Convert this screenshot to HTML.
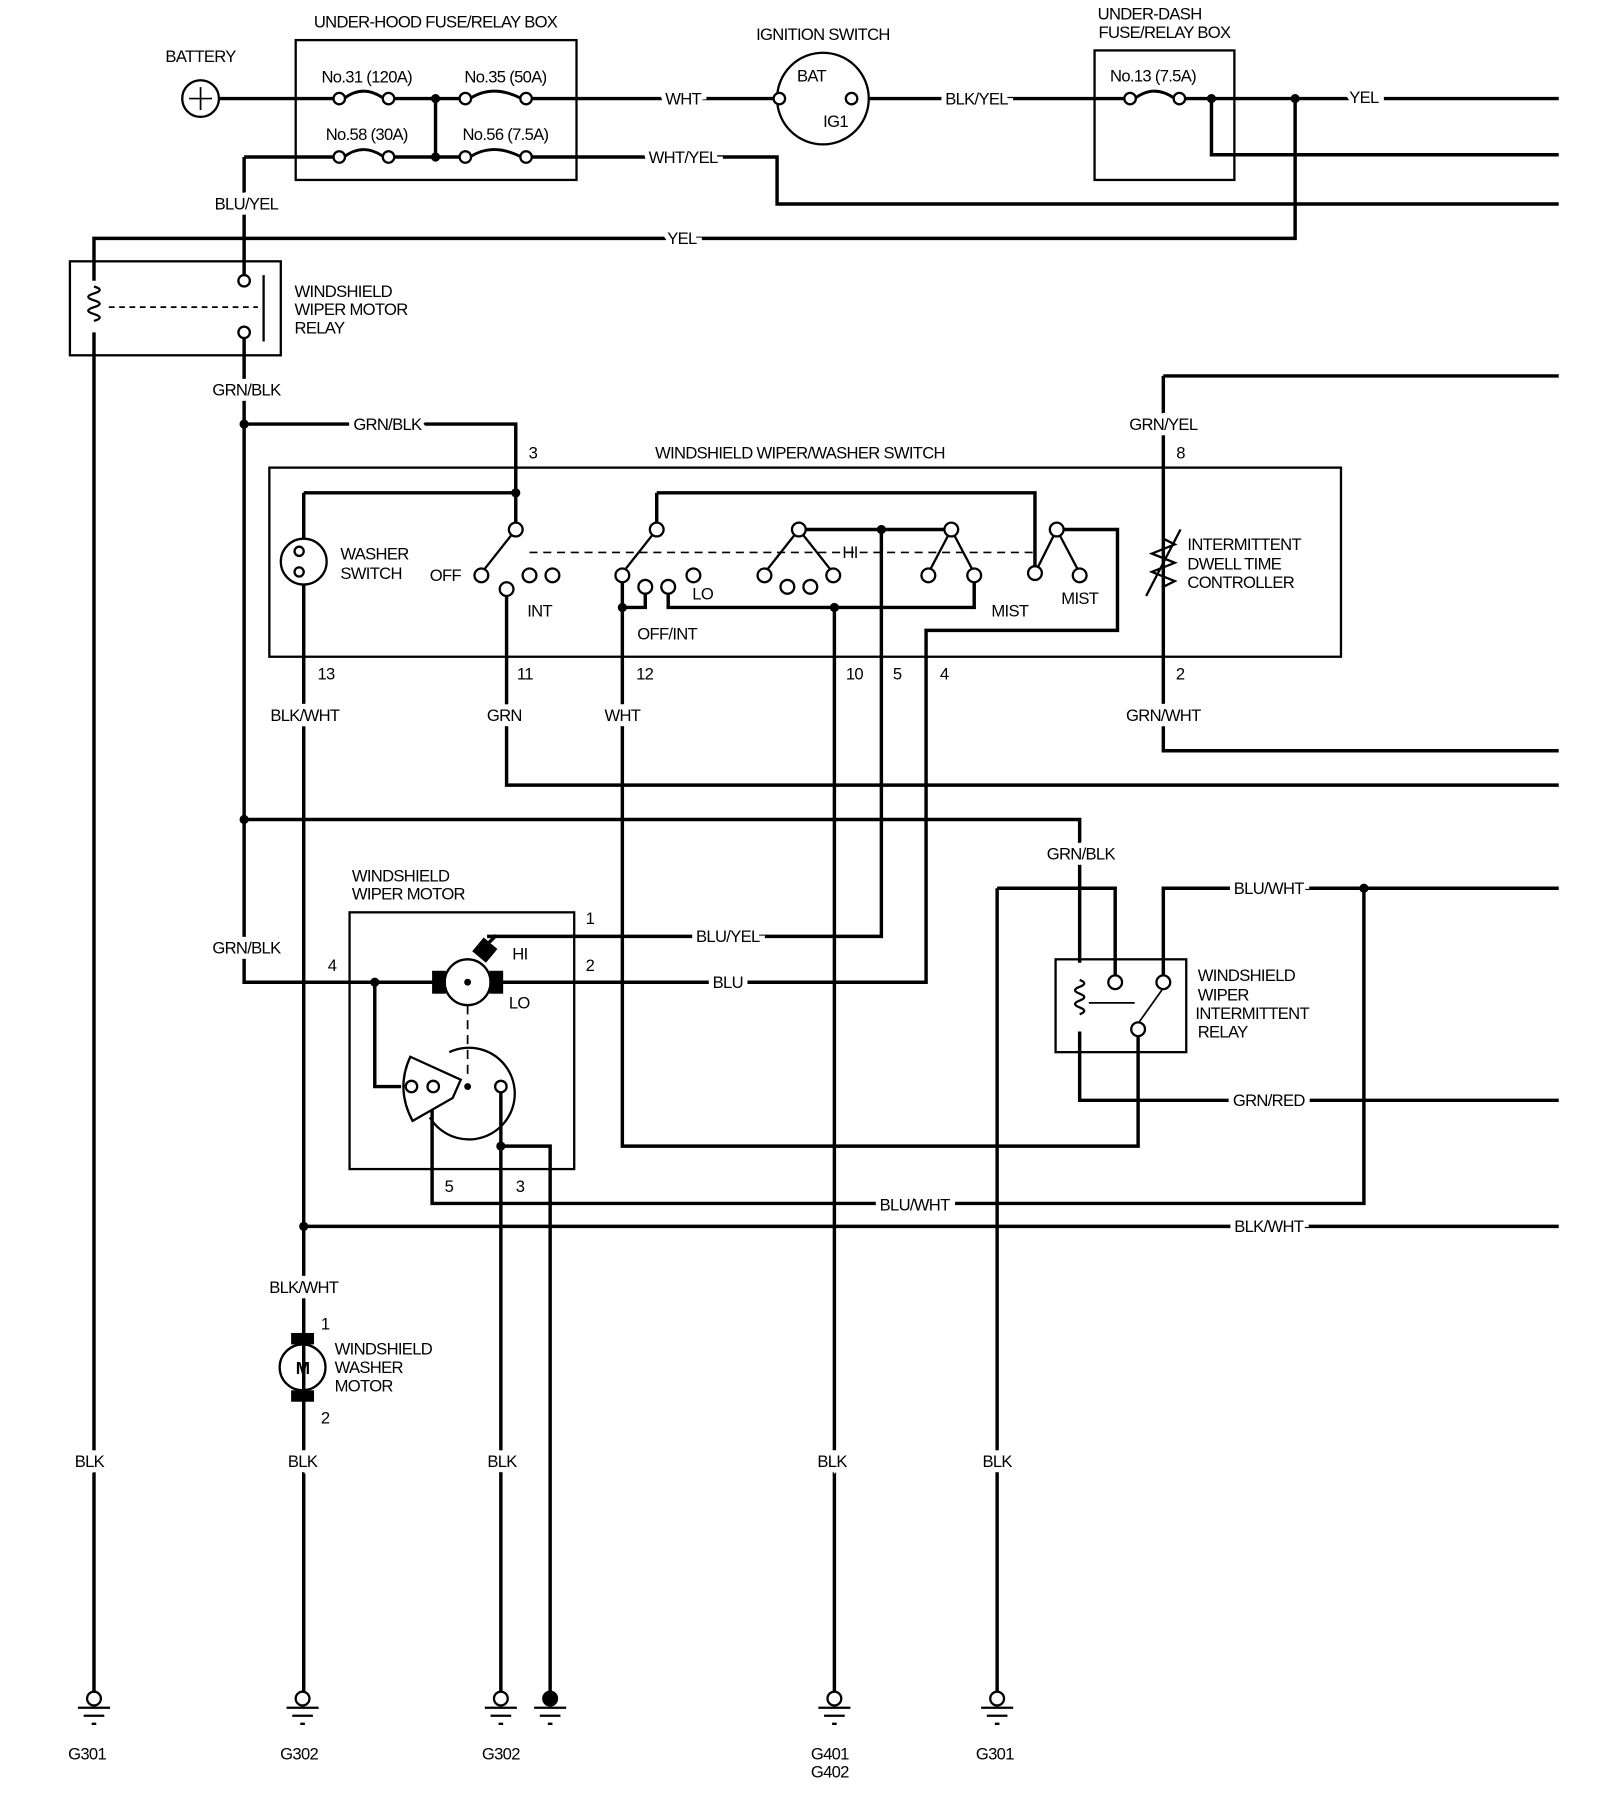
<!DOCTYPE html>
<html><head><meta charset="utf-8"><style>
html,body{margin:0;padding:0;background:#fff;}
svg{display:block;}
text{font-family:"Liberation Sans",sans-serif;font-size:14.5px;fill:#000;letter-spacing:-0.6px;}
.l{stroke:#fff;stroke-width:9px;paint-order:stroke;}
</style></head><body>
<svg width="1600" height="1796" viewBox="0 0 1396 1567" preserveAspectRatio="none" xmlns="http://www.w3.org/2000/svg">
<g fill="none" stroke="#000" stroke-width="3">
<circle cx="175" cy="86" r="16" stroke-width="2"/>
<path d="M165 86h20M175 76v20" stroke-width="1.5"/>
<rect x="258" y="35" width="245" height="122" stroke-width="2"/>
<path d="M191 86H292M343 86H402M463 86H678"/>
<path d="M213 137H292M343 137H402M463 137H678V178H1360"/>
<path d="M380 86V137"/>
<path d="M300 86q17-13 35 0M410 86q20-13 45 0M300 137q17-13 35 0M410 137q20-13 45 0" stroke-width="2.5"/>
<circle cx="718" cy="86" r="40" stroke-width="2"/>
<path d="M757 86H982M1033 86H1360M1057 86V135H1360M1130 86V208H82V245"/>
<path d="M990 86q17-13 35 0" stroke-width="2.5"/>
<rect x="955" y="44" width="122" height="113" stroke-width="2"/>
<rect x="61" y="228" width="184" height="82" stroke-width="2"/>
<path d="M213 137V240M213 295V857H380"/>
<path d="M230 240V298" stroke-width="2"/>
<path d="M95 268H225" stroke-width="1.5" stroke-dasharray="5,4"/>
<path d="M82 250q10 3 0 6q-10 3 0 6q10 3 0 6q-10 3 0 6q10 3 0 6" stroke-width="2"/>
<path d="M82 290V1478"/>
<path d="M213 370H450V462"/>
<rect x="235" y="408" width="935" height="165" stroke-width="2"/>
<path d="M265 430H450M265 430V470M265 510V1478"/>
<circle cx="265" cy="490" r="20" stroke-width="2"/>
<path d="M450 462L420 500" stroke-width="2"/>
<path d="M442 520V685H1360"/>
<path d="M573 430H903V497M573 430V457"/>
<path d="M573 462L543 500" stroke-width="2"/>
<path d="M543 507V1000H993V903M543 530H563V517M583 517V530H850V507"/>
<path d="M728 530V1478"/>
<path d="M697 462H830M769 462V817H425"/>
<path d="M697 462L667 500M697 462L727 500M830 462L810 500M830 462L850 500M922 462L903 500M922 462L942 500" stroke-width="2"/>
<path d="M927 462H975V550H808V857H437"/>
<path d="M462 482H905" stroke-width="1.5" stroke-dasharray="7,5"/>
<path d="M1015 328H1360M1015 328V655H1360"/>
<path d="M1015 470l10 5-20 8 20 8-20 8 20 8-10 5M1000 520L1030 462" stroke-width="2"/>
<path d="M213 715H942V840M942 900V960H1360M870 775H973V852M870 775V1478M1015 852V775H1360M1190 775V1050H377V953"/>
<rect x="921" y="837" width="114" height="81" stroke-width="2"/>
<path d="M942 855q8 3 0 6q-8 3 0 6q8 3 0 6q-8 3 0 6q8 3 0 6" stroke-width="2"/>
<path d="M1015 862L993 893M950 875H990" stroke-width="1.5"/>
<rect x="305" y="796" width="196" height="224" stroke-width="2"/>
<path d="M327 857V948H350"/>
<circle cx="408" cy="857" r="20" stroke-width="2"/>
<path d="M408 877V940" stroke-width="1.5" stroke-dasharray="8,5"/>
<path d="M437 952V1000H480V1478M437 1000V1478"/>
<path d="M392 918A40 40 0 1 1 375 975" stroke-width="2"/>
<path d="M358 922L402 942L395 958L360 978Q345 950 358 922Z" fill="#fff" stroke-width="2"/>
<path d="M265 1070H1360"/>
<circle cx="264" cy="1193" r="20" stroke-width="2"/>
<g stroke-width="2">
<circle cx="82" cy="1482" r="6" fill="#fff"/><path d="M68 1490h28M73 1497h18M80 1504h4"/>
<circle cx="264" cy="1482" r="6" fill="#fff"/><path d="M250 1490h28M255 1497h18M262 1504h4"/>
<circle cx="437" cy="1482" r="6" fill="#fff"/><path d="M423 1490h28M428 1497h18M435 1504h4"/>
<circle cx="480" cy="1482" r="6" fill="#000"/><path d="M466 1490h28M471 1497h18M478 1504h4"/>
<circle cx="728" cy="1482" r="6" fill="#fff"/><path d="M714 1490h28M719 1497h18M726 1504h4"/>
<circle cx="870" cy="1482" r="6" fill="#fff"/><path d="M856 1490h28M861 1497h18M868 1504h4"/>
</g>
</g>
<g fill="#000">
<circle cx="380" cy="86" r="4"/><circle cx="380" cy="137" r="4"/><circle cx="1057" cy="86" r="4"/><circle cx="1130" cy="86" r="4"/>
<circle cx="213" cy="370" r="4"/><circle cx="213" cy="715" r="4"/><circle cx="450" cy="430" r="4"/><circle cx="543" cy="530" r="4"/>
<circle cx="728" cy="530" r="4"/><circle cx="769" cy="462" r="4"/><circle cx="327" cy="857" r="4"/><circle cx="437" cy="1000" r="4"/>
<circle cx="265" cy="1070" r="4"/><circle cx="1190" cy="775" r="4"/><circle cx="408" cy="857" r="3"/><circle cx="408" cy="948" r="3"/>
<rect x="377" y="847" width="12" height="20"/><rect x="427" y="847" width="12" height="20"/>
<path d="M412 830l10-12 12 10-10 12z"/><path d="M425 824l8-8" stroke="#000" stroke-width="3"/>
<rect x="254" y="1163" width="20" height="10"/><rect x="254" y="1213" width="20" height="10"/>
</g>
<g fill="#fff" stroke="#000" stroke-width="2">
<circle cx="296" cy="86" r="5"/><circle cx="339" cy="86" r="5"/><circle cx="406" cy="86" r="5"/><circle cx="459" cy="86" r="5"/>
<circle cx="296" cy="137" r="5"/><circle cx="339" cy="137" r="5"/><circle cx="406" cy="137" r="5"/><circle cx="459" cy="137" r="5"/>
<circle cx="986" cy="86" r="5"/><circle cx="1029" cy="86" r="5"/>
<circle cx="680" cy="86" r="5"/><circle cx="743" cy="86" r="5"/>
<circle cx="213" cy="245" r="5"/><circle cx="213" cy="290" r="5"/>
<circle cx="261" cy="481" r="4"/><circle cx="261" cy="499" r="4"/>
<circle cx="450" cy="462" r="6"/><circle cx="420" cy="502" r="6"/><circle cx="442" cy="514" r="6"/><circle cx="462" cy="502" r="6"/><circle cx="482" cy="502" r="6"/>
<circle cx="573" cy="462" r="6"/><circle cx="543" cy="502" r="6"/><circle cx="563" cy="512" r="6"/><circle cx="583" cy="512" r="6"/><circle cx="605" cy="502" r="6"/>
<circle cx="697" cy="462" r="6"/><circle cx="667" cy="502" r="6"/><circle cx="687" cy="512" r="6"/><circle cx="707" cy="512" r="6"/><circle cx="727" cy="502" r="6"/>
<circle cx="830" cy="462" r="6"/><circle cx="810" cy="502" r="6"/><circle cx="850" cy="502" r="6"/>
<circle cx="922" cy="462" r="6"/><circle cx="903" cy="500" r="6"/><circle cx="942" cy="502" r="6"/>
<circle cx="973" cy="857" r="6"/><circle cx="1015" cy="857" r="6"/><circle cx="993" cy="898" r="6"/>
<circle cx="359" cy="948" r="5"/><circle cx="378" cy="948" r="5"/><circle cx="437" cy="948" r="5"/>
</g>
<g>
<text x="175" y="54" text-anchor="middle">BATTERY</text>
<text x="380" y="24" text-anchor="middle">UNDER-HOOD FUSE/RELAY BOX</text>
<text x="320" y="72" text-anchor="middle">No.31 (120A)</text>
<text x="441" y="72" text-anchor="middle">No.35 (50A)</text>
<text x="320" y="122" text-anchor="middle">No.58 (30A)</text>
<text x="441" y="122" text-anchor="middle">No.56 (7.5A)</text>
<text class="l" x="596" y="91" text-anchor="middle">WHT</text>
<text class="l" x="596" y="142" text-anchor="middle">WHT/YEL</text>
<text x="718" y="35" text-anchor="middle">IGNITION SWITCH</text>
<text x="708" y="71" text-anchor="middle">BAT</text>
<text x="729" y="111" text-anchor="middle">IG1</text>
<text class="l" x="852" y="91" text-anchor="middle">BLK/YEL</text>
<text x="1003" y="17" text-anchor="middle">UNDER-DASH</text>
<text x="1016" y="33" text-anchor="middle">FUSE/RELAY BOX</text>
<text x="1006" y="71" text-anchor="middle">No.13 (7.5A)</text>
<text class="l" x="1190" y="90" text-anchor="middle">YEL</text>
<text class="l" x="215" y="183" text-anchor="middle">BLU/YEL</text>
<text class="l" x="595" y="213" text-anchor="middle">YEL</text>
<text x="257" y="259">WINDSHIELD</text><text x="257" y="275">WIPER MOTOR</text><text x="257" y="291">RELAY</text>
<text class="l" x="215" y="345" text-anchor="middle">GRN/BLK</text>
<text class="l" x="338" y="375" text-anchor="middle">GRN/BLK</text>
<text x="465" y="400" text-anchor="middle">3</text>
<text x="698" y="400" text-anchor="middle">WINDSHIELD WIPER/WASHER SWITCH</text>
<text class="l" x="1015" y="375" text-anchor="middle">GRN/YEL</text>
<text x="1030" y="400" text-anchor="middle">8</text>
<text x="297" y="488">WASHER</text><text x="297" y="505">SWITCH</text>
<text x="375" y="507">OFF</text><text x="460" y="538">INT</text><text x="604" y="523">LO</text>
<text x="556" y="558">OFF/INT</text><text x="735" y="487">HI</text>
<text x="865" y="538">MIST</text><text x="926" y="527">MIST</text>
<text x="1036" y="480">INTERMITTENT</text><text x="1036" y="497">DWELL TIME</text><text x="1036" y="513">CONTROLLER</text>
<text x="277" y="593">13</text><text x="451" y="593">11</text><text x="555" y="593">12</text><text x="738" y="593">10</text><text x="779" y="593">5</text><text x="820" y="593">4</text><text x="1026" y="593">2</text>
<text class="l" x="266" y="629" text-anchor="middle">BLK/WHT</text>
<text class="l" x="440" y="629" text-anchor="middle">GRN</text>
<text class="l" x="543" y="629" text-anchor="middle">WHT</text>
<text class="l" x="1015" y="629" text-anchor="middle">GRN/WHT</text>
<text class="l" x="943" y="750" text-anchor="middle">GRN/BLK</text>
<text class="l" x="1107" y="780" text-anchor="middle">BLU/WHT</text>
<text x="1045" y="856">WINDSHIELD</text><text x="1045" y="873">WIPER</text><text x="1043" y="889">INTERMITTENT</text><text x="1045" y="905">RELAY</text>
<text class="l" x="1107" y="965" text-anchor="middle">GRN/RED</text>
<text x="307" y="769">WINDSHIELD</text><text x="307" y="785">WIPER MOTOR</text>
<text x="511" y="806">1</text><text x="511" y="847">2</text><text x="286" y="847">4</text>
<text x="447" y="837">HI</text><text x="444" y="880">LO</text>
<text class="l" x="635" y="822" text-anchor="middle">BLU/YEL</text>
<text class="l" x="635" y="862" text-anchor="middle">BLU</text>
<text class="l" x="215" y="832" text-anchor="middle">GRN/BLK</text>
<text x="388" y="1040">5</text><text x="450" y="1040">3</text>
<text class="l" x="798" y="1056" text-anchor="middle">BLU/WHT</text>
<text class="l" x="1107" y="1075" text-anchor="middle">BLK/WHT</text>
<text class="l" x="265" y="1128" text-anchor="middle">BLK/WHT</text>
<text x="280" y="1160">1</text><text x="280" y="1242">2</text>
<text x="264" y="1199" text-anchor="middle" font-weight="bold" style="font-size:15px">M</text>
<text x="292" y="1182">WINDSHIELD</text><text x="292" y="1198">WASHER</text><text x="292" y="1214">MOTOR</text>
<text class="l" x="78" y="1280" text-anchor="middle">BLK</text>
<text class="l" x="264" y="1280" text-anchor="middle">BLK</text>
<text class="l" x="438" y="1280" text-anchor="middle">BLK</text>
<text class="l" x="726" y="1280" text-anchor="middle">BLK</text>
<text class="l" x="870" y="1280" text-anchor="middle">BLK</text>
<text x="76" y="1535" text-anchor="middle">G301</text>
<text x="261" y="1535" text-anchor="middle">G302</text>
<text x="437" y="1535" text-anchor="middle">G302</text>
<text x="724" y="1535" text-anchor="middle">G401</text>
<text x="724" y="1551" text-anchor="middle">G402</text>
<text x="868" y="1535" text-anchor="middle">G301</text>
</g>
</svg>
</body></html>
